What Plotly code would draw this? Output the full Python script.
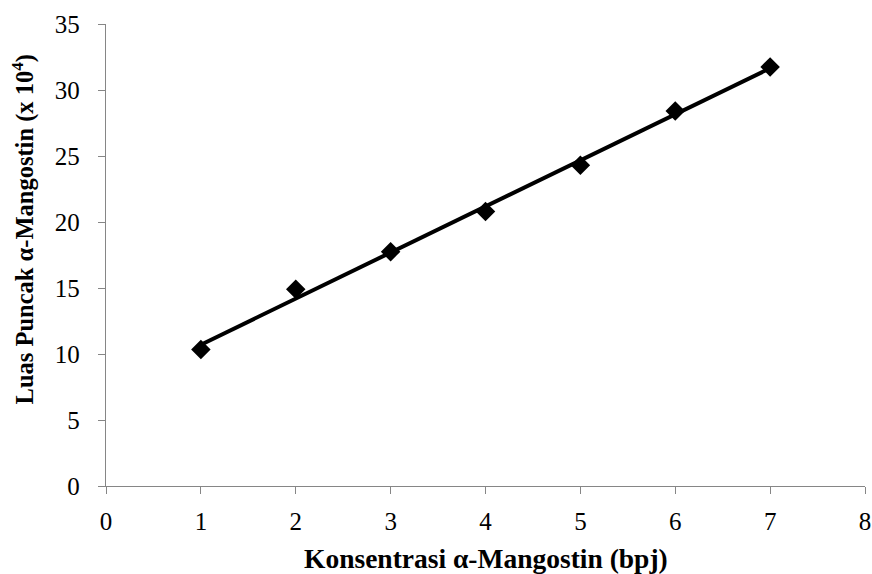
import numpy as np
import plotly.graph_objects as go

konsentrasi = [1, 2, 3, 4, 5, 6, 7]
luas_puncak = [10.35, 14.9, 17.75, 20.8, 24.3, 28.4, 31.75]
x_ticks = [0, 1, 2, 3, 4, 5, 6, 7, 8]
y_ticks = [0, 5, 10, 15, 20, 25, 30, 35]

slope, intercept = np.polyfit(konsentrasi, luas_puncak, 1)
fit_x = [konsentrasi[0], konsentrasi[-1]]
fit_y = [slope * v + intercept for v in fit_x]

FONT = "Liberation Serif, Times New Roman, serif"
AX = "#868686"

fig = go.Figure()
fig.add_trace(go.Scatter(
    x=fit_x, y=fit_y, mode="lines",
    line=dict(color="black", width=4),
    showlegend=False))
fig.add_trace(go.Scatter(
    x=konsentrasi, y=luas_puncak, mode="markers",
    marker=dict(symbol="diamond", size=15, color="black"),
    showlegend=False))

fig.update_layout(
    width=872, height=574,
    margin=dict(l=106, r=7, t=24, b=88),
    paper_bgcolor="white", plot_bgcolor="white",
    font=dict(family=FONT, size=25, color="black"),
    xaxis=dict(range=[0, 8], tickvals=x_ticks, showgrid=False, zeroline=False,
               showline=True, linecolor=AX, linewidth=1.3,
               ticks="outside", ticklen=7, tickcolor=AX,
               ticklabelstandoff=6, automargin=False),
    yaxis=dict(range=[0, 35], tickvals=y_ticks, showgrid=False, zeroline=False,
               showline=True, linecolor=AX, linewidth=1.3,
               ticks="outside", ticklen=7, tickcolor=AX,
               ticklabelstandoff=13, automargin=False),
    annotations=[
        dict(text="<b>Konsentrasi α-Mangostin (bpj)</b>",
             xref="paper", yref="paper", x=0.5, y=-0.156,
             xanchor="center", yanchor="middle", showarrow=False,
             font=dict(size=27.5)),
        dict(text="<b>Luas Puncak α-Mangostin (x 10<sup>4</sup>)</b>",
             xref="paper", yref="paper", x=-0.109, y=0.556,
             xanchor="center", yanchor="middle", showarrow=False,
             textangle=-90, font=dict(size=24.5)),
    ],
)

fig.write_html(
    "out.html",
    config={"displayModeBar": False},
    post_script="document.body.style.margin='0';document.body.style.overflow='hidden';",
)
